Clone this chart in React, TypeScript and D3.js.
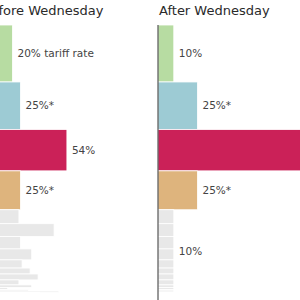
import React, { useRef, useEffect } from "react";
import * as d3 from "d3";

// US imports (billions) and tariff rates, before / after Wednesday
const countries = ["EU", "Mexico", "China", "Canada", "Japan", "Vietnam", "South Korea", "Taiwan", "India", "Switzerland", "Thailand", "Malaysia", "Indonesia", "Israel", "South Africa", "Cambodia", "Bangladesh"];
const imports = [605, 505, 439, 413, 148, 137, 131, 116, 87, 63, 63, 53, 28, 22, 15, 13, 8];
const beforeRates = [20, 25, 54, 25, 24, 46, 25, 32, 26, 31, 36, 24, 32, 17, 30, 49, 37];
const afterRates = [10, 25, 125, 25, 10, 10, 10, 10, 10, 10, 10, 10, 10, 10, 10, 10, 10];
const groupColors = ["#b7dca2", "#9dcbd4", "#cb2158", "#deb47d"];
const otherColor = "#e8e8e8";
const beforeLabels = ["20% tariff rate", "25%*", "54%", "25%*"];
const afterLabels = ["10%", "25%*", "125%", "25%*"];
const otherLabel = "10%";

const FONT = "DejaVu Sans, sans-serif";
const W = 300;

export default function App() {
  const svgRef = useRef<SVGSVGElement>(null);

  useEffect(() => {
    const svg = d3.select(svgRef.current);
    svg.selectAll("*").remove();

    const total = d3.sum(imports);
    const tops = imports.map((d, i) => d3.sum(imports.slice(0, i)));
    const y = d3.scaleLinear().domain([0, total]).range([25, 293]);

    const panels = [
      { title: "Before Wednesday", rates: beforeRates, labels: beforeLabels, x: d3.scaleLinear().domain([0, 100]).range([-19.5, 140.5]), otherLabel: null },
      { title: "After Wednesday", rates: afterRates, labels: afterLabels, x: d3.scaleLinear().domain([0, 100]).range([158, 316]), otherLabel: otherLabel },
    ];

    panels.forEach((p) => {
      const g = svg.append("g");
      const x = p.x;

      g.append("text")
        .attr("x", x(0) + 1)
        .attr("y", 15)
        .attr("font-family", FONT)
        .attr("font-size", 13)
        .attr("fill", "#2a2a2a")
        .text(p.title);

      g.selectAll("rect")
        .data(countries)
        .join("rect")
        .attr("x", x(0))
        .attr("y", (d, i) => y(tops[i]))
        .attr("width", (d, i) => x(p.rates[i]) - x(0))
        .attr("height", (d, i) => y(tops[i] + imports[i]) - y(tops[i]))
        .attr("fill", (d, i) => (i < groupColors.length ? groupColors[i] : otherColor))
        .attr("stroke", "#fff")
        .attr("stroke-width", 0.8);

      g.append("line")
        .attr("x1", x(0))
        .attr("x2", x(0))
        .attr("y1", 25)
        .attr("y2", 300)
        .attr("stroke", "#333")
        .attr("stroke-width", 1);

      // labels beyond the visible area are left out
      const labs = p.labels
        .map((d, i) => ({ text: d, i }))
        .filter((d) => x(p.rates[d.i]) + 5 < W - 20);

      g.selectAll("text.lab")
        .data(labs)
        .join("text")
        .attr("class", "lab")
        .attr("x", (d) => x(p.rates[d.i]) + 5)
        .attr("y", (d) => y(tops[d.i] + imports[d.i] / 2))
        .attr("dy", "0.35em")
        .attr("font-family", FONT)
        .attr("font-size", 10.5)
        .attr("fill", "#444")
        .text((d) => d.text);

      if (p.otherLabel) {
        const start = tops[groupColors.length];
        g.append("text")
          .attr("x", x(10) + 5)
          .attr("y", y((start + total) / 2))
          .attr("dy", "0.35em")
          .attr("font-family", FONT)
          .attr("font-size", 10.5)
          .attr("fill", "#444")
          .text(p.otherLabel);
      }
    });
  }, []);

  return (
    <svg
      ref={svgRef}
      width={W}
      height={300}
      style={{ position: "fixed", left: 0, top: 0, background: "#fff", overflow: "hidden" }}
    />
  );
}
